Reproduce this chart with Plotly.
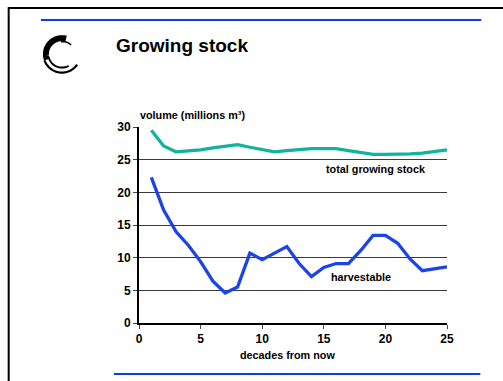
import numpy as np
import plotly.graph_objects as go

decades = list(range(1, 26))
total_stock = [29.5, 27.1, 26.2, 26.3, 26.5, 26.8, 27.1, 27.3, 26.9, 26.5, 26.2, 26.4, 26.6,
               26.7, 26.7, 26.7, 26.4, 26.1, 25.8, 25.8, 25.8, 25.9, 26.0, 26.2, 26.5]
harvestable = [22.3, 17.3, 14.0, 11.9, 9.4, 6.4, 4.6, 5.5, 10.7, 9.7, 10.7, 11.7, 9.1,
               7.1, 8.5, 9.1, 9.1, 11.1, 13.4, 13.4, 12.2, 9.8, 8.0, 8.3, 8.6]
x_ticks = [0, 5, 10, 15, 20, 25]
y_ticks = [0, 5, 10, 15, 20, 25, 30]

W, H = 503, 381
L, R, T, B = 139, 446.7, 127, 323.3
FONT = "Liberation Sans, Arial, sans-serif"

def px(x):
    return (x - L) / (R - L)

def py(y):
    return (B - y) / (B - T)

fig = go.Figure()
fig.add_trace(go.Scatter(x=decades, y=total_stock, mode="lines",
                         line=dict(color="#12B39C", width=3.3), showlegend=False))
fig.add_trace(go.Scatter(x=decades, y=harvestable, mode="lines",
                         line=dict(color="#1A44EA", width=3.3), showlegend=False))

shapes = []
# slide frame
shapes.append(dict(type="line", xref="paper", yref="paper", x0=px(8.5), x1=px(W + 5),
                   y0=py(7.8), y1=py(7.8), line=dict(color="black", width=2)))
shapes.append(dict(type="line", xref="paper", yref="paper", x0=px(8.8), x1=px(8.8),
                   y0=py(7), y1=py(H + 5), line=dict(color="black", width=2)))
# blue rules
shapes.append(dict(type="line", xref="paper", yref="paper", x0=px(41), x1=px(481),
                   y0=py(19.8), y1=py(19.8), line=dict(color="#0A3CF0", width=2)))
shapes.append(dict(type="line", xref="paper", yref="paper", x0=px(114), x1=px(480),
                   y0=py(374.3), y1=py(374.3), line=dict(color="#0A3CF0", width=2)))

# logo arcs
def arc(cx, cy, r, a0, a1, width):
    a = np.radians(np.linspace(a0, a1, 40))
    xs = cx + r * np.cos(a)
    ys = cy - r * np.sin(a)
    d = "M " + " L ".join(f"{px(x):.5f},{py(y):.5f}" for x, y in zip(xs, ys))
    return dict(type="path", xref="paper", yref="paper", path=d,
                line=dict(color="black", width=width))

shapes.append(arc(62, 54, 16, 75, 200, 6))
shapes.append(arc(62, 54, 18.5, 200, 325, 2.2))
shapes.append(arc(62, 54, 13.5, 195, 300, 2))
shapes.append(arc(63, 53, 11.5, 45, 100, 1.5))

fig.update_layout(
    width=W, height=H,
    margin=dict(l=L, r=W - R, t=T, b=H - B),
    paper_bgcolor="white", plot_bgcolor="white",
    font=dict(family=FONT, color="black"),
    shapes=shapes,
    xaxis=dict(range=[0, 25], tickvals=x_ticks, ticks="outside", ticklen=4, tickwidth=1,
               showgrid=False, zeroline=False, showline=True, linecolor="black", linewidth=2,
               tickfont=dict(size=12, family=FONT, weight="bold"), fixedrange=True),
    yaxis=dict(range=[0, 30], tickvals=y_ticks, ticks="outside", ticklen=4, tickwidth=1,
               showgrid=True, gridcolor="#3a3a3a", gridwidth=1, zeroline=False,
               showline=True, linecolor="black", linewidth=2,
               tickfont=dict(size=12, family=FONT, weight="bold"), fixedrange=True),
    annotations=[
        dict(text="<b>Growing stock</b>", xref="paper", yref="paper", x=px(114), y=py(45),
             xanchor="left", yanchor="middle", showarrow=False, font=dict(size=19)),
        dict(text="<b>volume (millions m³)</b>", xref="paper", yref="paper", x=px(138),
             y=py(115), xanchor="left", yanchor="middle", showarrow=False, font=dict(size=10.8)),
        dict(text="<b>total growing stock</b>", xref="paper", yref="paper", x=px(376),
             y=py(169), xanchor="center", yanchor="middle", showarrow=False, font=dict(size=10.8)),
        dict(text="<b>harvestable</b>", xref="paper", yref="paper", x=px(361),
             y=py(277), xanchor="center", yanchor="middle", showarrow=False, font=dict(size=10.8)),
        dict(text="<b>decades from now</b>", xref="paper", yref="paper", x=px(287),
             y=py(355), xanchor="center", yanchor="middle", showarrow=False, font=dict(size=10.8)),
    ],
)

fig.write_html("out.html")
